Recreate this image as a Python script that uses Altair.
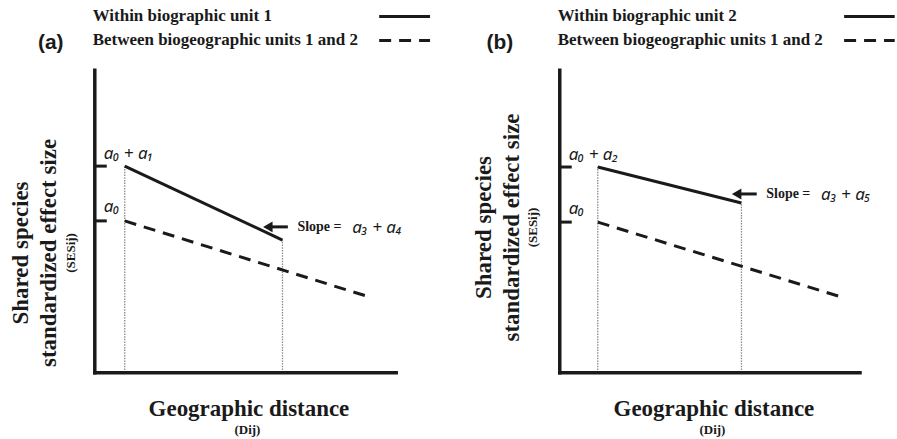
import altair as alt
import pandas as pd

# ---------------- data (schematic values, in distance / SES units) ----------------
PANEL_TAGS = ["(a)", "(b)"]
WITHIN_LABELS = ["Within biographic unit 1", "Within biographic unit 2"]
BETWEEN_LABEL = "Between biogeographic units 1 and 2"
Y_TITLE = ["Shared species", "standardized effect size"]
Y_SUB = "(SESij)"
X_TITLE = "Geographic distance"
X_SUB = "(Dij)"

DIST_START = [10.0, 12.7]
DIST_END_WITHIN = [62.7, 60.7]
DIST_END_BETWEEN = [91.7, 94.0]
SES_WITHIN = [[69.0, 44.3], [68.7, 56.7]]
SES_BETWEEN = [[50.7, 25.3], [50.3, 25.3]]
INTERCEPT_LABELS = [["a₀ + a₁", "a₀"], ["a₀ + a₂", "a₀"]]
SLOPE_WORD = "Slope  ="
SLOPE_TERMS = ["a₃ + a₄", "a₃ + a₅"]
AXIS_X_MAX = [100.7, 100.3]
AXIS_Y_MAX = 101.0

# ---------------- layout ----------------
WIDTHS = [466, 431]
HEIGHT = 439
PX = 3.0
X_LO = -31.67
Y_LO = -22.0
ARROW_TIP = [(56.0, 48.7), (57.3, 59.7)]
YTITLE_CENTER = [40.0, 48.5]
LEGEND_LINE_END = [112.0, 111.9]

SERIF = "Liberation Serif"
SANS = "Liberation Sans"
MATH = "Noto Sans"
INK = "#1a1a1a"


def panel(i):
    xs = alt.Scale(domain=[X_LO, X_LO + WIDTHS[i] / PX], nice=False, zero=False)
    ys = alt.Scale(domain=[Y_LO, Y_LO + HEIGHT / PX], nice=False, zero=False)

    def enc_rule():
        return dict(
            x=alt.X("x:Q", scale=xs, axis=None),
            y=alt.Y("y:Q", scale=ys, axis=None),
            x2="x2:Q",
            y2="y2:Q",
        )

    def enc_pt():
        return dict(
            x=alt.X("x:Q", scale=xs, axis=None),
            y=alt.Y("y:Q", scale=ys, axis=None),
            text="text:N",
        )

    s0, s1 = SES_WITHIN[i]
    b0, b1 = SES_BETWEEN[i]
    d0 = DIST_START[i]
    dw = DIST_END_WITHIN[i]
    db = DIST_END_BETWEEN[i]
    le = LEGEND_LINE_END[i]

    dotted = pd.DataFrame({"x": [d0, dw], "x2": [d0, dw], "y": [0, 0], "y2": [s0, s1]})
    axes = pd.DataFrame({"x": [0, 0], "x2": [0, AXIS_X_MAX[i]], "y": [0, 0], "y2": [AXIS_Y_MAX, 0]})
    ticks = pd.DataFrame({"x": [-0.3, -0.3], "x2": [4, 4], "y": [s0, b0], "y2": [s0, b0]})
    solid = pd.DataFrame({"x": [d0, 95.0], "x2": [dw, le], "y": [s0, 119.0], "y2": [s1, 119.0]})
    dashed = pd.DataFrame({"x": [d0, 95.0], "x2": [db, le], "y": [b0, 111.0], "y2": [b1, 111.0]})
    tx, ty = ARROW_TIP[i]
    shaft = pd.DataFrame({"x": [tx + 2.5], "x2": [tx + 8.5], "y": [ty], "y2": [ty]})
    head = pd.DataFrame({"x": [tx + 1.8], "y": [ty]})

    layers = [
        alt.Chart(dotted).mark_rule(color="#8a8a8a", strokeWidth=1.3, strokeDash=[1.5, 1.2]).encode(**enc_rule()),
        alt.Chart(axes).mark_rule(color=INK, strokeWidth=3.5, strokeCap="square").encode(**enc_rule()),
        alt.Chart(ticks).mark_rule(color=INK, strokeWidth=3).encode(**enc_rule()),
        alt.Chart(solid).mark_rule(color=INK, strokeWidth=3).encode(**enc_rule()),
        alt.Chart(dashed).mark_rule(color=INK, strokeWidth=3, strokeDash=[12, 8]).encode(**enc_rule()),
        alt.Chart(shaft).mark_rule(color=INK, strokeWidth=3).encode(**enc_rule()),
        alt.Chart(head).mark_point(shape="triangle-left", filled=True, size=120, color=INK, opacity=1).encode(
            x=alt.X("x:Q", scale=xs, axis=None), y=alt.Y("y:Q", scale=ys, axis=None)
        ),
    ]

    legend = pd.DataFrame({"x": [-0.7, -0.7], "y": [119.0, 111.0], "text": [WITHIN_LABELS[i], BETWEEN_LABEL]})
    layers.append(
        alt.Chart(legend).mark_text(font=SERIF, fontWeight="bold", fontSize=17, align="left", baseline="middle", color=INK).encode(**enc_pt())
    )
    tag = pd.DataFrame({"x": [-14.7 if i == 0 else -20.0], "y": [110.0], "text": [PANEL_TAGS[i]]})
    layers.append(
        alt.Chart(tag).mark_text(font=SANS, fontWeight="bold", fontSize=21, align="center", baseline="middle", color=INK).encode(**enc_pt())
    )
    icpt = pd.DataFrame({"x": [3.0, 3.0], "y": [s0 + 4.0, b0 + 4.5], "text": INTERCEPT_LABELS[i]})
    layers.append(
        alt.Chart(icpt).mark_text(font=MATH, fontStyle="italic", fontSize=17, align="left", baseline="middle", color=INK).encode(**enc_pt())
    )
    sw = pd.DataFrame({"x": [tx + 11.7], "y": [ty], "text": [SLOPE_WORD]})
    layers.append(
        alt.Chart(sw).mark_text(font=SERIF, fontWeight="bold", fontSize=14, align="left", baseline="middle", color=INK).encode(**enc_pt())
    )
    st = pd.DataFrame({"x": [tx + 30.0], "y": [ty - 0.3], "text": [SLOPE_TERMS[i]]})
    layers.append(
        alt.Chart(st).mark_text(font=MATH, fontStyle="italic", fontSize=17, align="left", baseline="middle", color=INK).encode(**enc_pt())
    )
    yc = YTITLE_CENTER[i]
    shift = 0.6 if i else 0.0
    ytitle = pd.DataFrame({"x": [-24.7 - shift, -15.3 - shift], "y": [yc, yc], "text": Y_TITLE})
    layers.append(
        alt.Chart(ytitle).mark_text(font=SERIF, fontWeight="bold", fontSize=23, angle=270, align="center", baseline="middle", color=INK).encode(**enc_pt())
    )
    ysub = pd.DataFrame({"x": [-7.9 - (0.9 if i else 0)], "y": [yc], "text": [Y_SUB]})
    layers.append(
        alt.Chart(ysub).mark_text(font=SERIF, fontWeight="bold", fontSize=13, angle=270, align="center", baseline="middle", color=INK).encode(**enc_pt())
    )
    xt = pd.DataFrame({"x": [51.5], "y": [-12.0], "text": [X_TITLE]})
    layers.append(
        alt.Chart(xt).mark_text(font=SERIF, fontWeight="bold", fontSize=23, align="center", baseline="middle", color=INK).encode(**enc_pt())
    )
    xs_sub = pd.DataFrame({"x": [51.0], "y": [-19.0], "text": [X_SUB]})
    layers.append(
        alt.Chart(xs_sub).mark_text(font=SERIF, fontWeight="bold", fontSize=13, align="center", baseline="middle", color=INK).encode(**enc_pt())
    )

    return alt.layer(*layers).properties(width=WIDTHS[i], height=HEIGHT)


chart = (
    alt.hconcat(panel(0), panel(1), spacing=0)
    .properties(padding=0, background="white")
    .configure_view(stroke=None)
    .configure_concat(spacing=0)
)

chart.save("out.html", embed_options={"renderer": "svg", "actions": False})
